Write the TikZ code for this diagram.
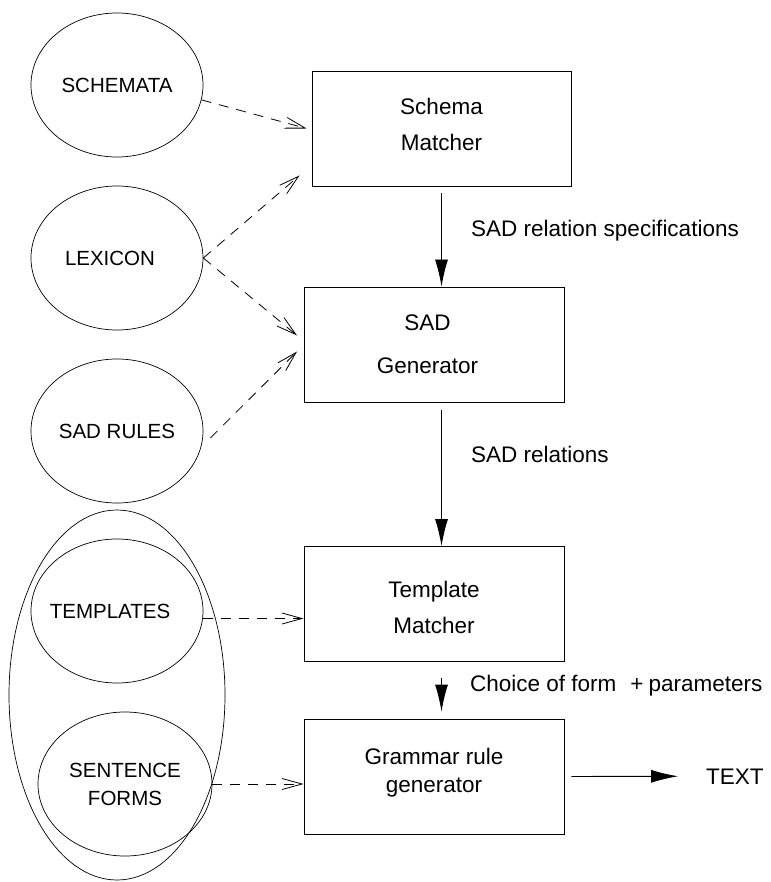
\documentclass[tikz,border=0pt]{standalone}
\usepackage{fontspec}
\setmainfont{Liberation Sans}
\usetikzlibrary{arrows.meta,shapes.geometric,calc}
\begin{document}
\begin{tikzpicture}[x=1pt,y=-1pt,
 every node/.style={inner sep=0pt},
 store/.style={draw, ellipse, minimum width=172pt, minimum height=144pt, line width=0.7pt, font=\fontsize{20.5}{24}\selectfont, align=center},
 module/.style={draw, rectangle, minimum width=260pt, minimum height=115pt, line width=0.9pt},
 boxtext/.style={font=\fontsize{22.5}{27}\selectfont, align=center},
 lbl/.style={anchor=base west, font=\fontsize{22.5}{27}\selectfont},
 flow/.style={line width=0.9pt, -{Latex[length=27pt,width=13pt]}},
 feed/.style={line width=0.8pt, dash pattern=on 10pt off 8pt, -{Straight Barb[length=20pt,width=11pt]}}
]
\useasboundingbox (0,0) rectangle (770,882);

% outer grouping ellipse
\node[draw, ellipse, minimum width=216pt, minimum height=370pt, line width=0.7pt] (lib) at (117,695) {};

% knowledge sources
\node[store] (sch) at (117,85) {SCHEMATA};
\node[store] (lex) at (117,258) {\makebox[0pt]{LEXICON\hspace*{14pt}}};
\node[store] (rules) at (117,431) {SAD RULES};
\node[store] (tmpl) at (117,611) {\makebox[0pt]{TEMPLATES\hspace*{14pt}}};
\node[store, minimum width=174pt] (sent) at (125,784) {SENTENCE\\[4pt]FORMS};

% modules
\node[module, minimum width=259pt] (sm) at (441.5,128.5) {};
\node[module] (gen) at (434.5,344.5) {};
\node[module] (tm) at (434,604) {};
\node[module] (grg) at (434,776.5) {};
\node[boxtext] (smt) at ([yshift=4.5pt]sm.center) {Schema\\[9pt]Matcher};
\node[boxtext] (gent) at ([xshift=-7pt]gen.center) {SAD\\[16pt]Generator};
\node[boxtext] (tmt) at ([yshift=-3pt]tm.center) {Template\\[9pt]Matcher};
\node[boxtext] (grgt) at ([yshift=4pt]grg.center) {Grammar rule\\[1pt]generator};

% labels
\node[lbl] (l1) at (471,237) {SAD relation specifications};
\node[lbl] (l2) at (471,462) {SAD relations};
\node[lbl] (l3) at (470,691) {Choice of form\hspace{14pt}+\hspace{5pt}parameters};
\node[lbl] (out) at (706,784) {TEXT};

% main flow
\draw[flow, shorten <=7pt] (sm.south) -- (sm.south |- gen.north);
\draw[flow, shorten <=8pt] (sm.south |- gen.south) -- (sm.south |- tm.north);
\draw[flow, shorten <=16pt, shorten >=7pt] (sm.south |- tm.south) -- (sm.south |- grg.north);
\draw[flow, shorten <=7pt] (grg.east) -- ([xshift=-28pt]out.west);

% knowledge feeds
\draw[feed] (sch.-10) -- ([xshift=-5pt]sm.west);
\draw[feed] (lex.east) -- ([xshift=-12pt,yshift=11pt]sm.south west);
\draw[feed] (lex.east) -- ([xshift=-7pt,yshift=9pt]gen.west);
\draw[feed] ([xshift=7pt,yshift=-7pt]rules.east) -- ([xshift=-7pt,yshift=-7pt]gen.west);
\draw[feed] (tmpl.-5) -- (tmpl.-5 -| tm.west);
\draw[feed] (sent.east) -- (sent.east -| grg.west);
\end{tikzpicture}
\end{document}
